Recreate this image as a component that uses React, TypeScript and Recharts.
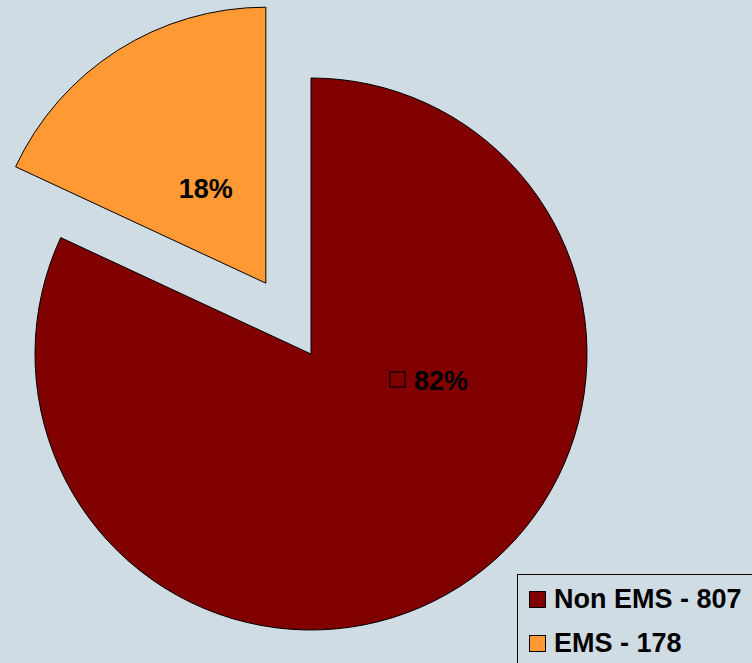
import { PieChart, Pie, Cell, Legend } from "recharts"

const categories = ["Non EMS", "EMS"]
const counts = [807, 178]
const colors = ["#800000", "#FF9933"]

const data = categories.map((name, i) => ({ name, value: counts[i] }))
const total = counts.reduce((s, v) => s + v, 0)

const CX = 311
const CY = 354
const R = 276
const EXPLODE = 84

// EMS slice sits after Non EMS going clockwise from 12 o'clock
const emsMid = 90 + ((counts[1] / total) * 360) / 2
const RAD = Math.PI / 180
const cx2 = CX + EXPLODE * Math.cos(emsMid * RAD)
const cy2 = CY - EXPLODE * Math.sin(emsMid * RAD)

// where each percent label sits (angle in degrees, fraction of radius)
const labelAngle = [-13, emsMid]
const labelRadius = [0.435, 0.405]

const font = "'Liberation Sans', Arial, sans-serif"

function pct(i: number) {
  return `${Math.round((counts[i] / total) * 100)}%`
}

function makeLabel(only: number) {
  return (props: any) => {
    const { cx, cy, index } = props
    if (index !== only) return null
    const a = labelAngle[index] * RAD
    const x = cx + R * labelRadius[index] * Math.cos(a)
    const y = cy - R * labelRadius[index] * Math.sin(a)
    if (index === 0) {
      return (
        <g>
          <rect x={x - 38} y={y - 9} width={15} height={15} fill="none" stroke="#000" strokeWidth={1.2} />
          <text x={x - 14} y={y} dominantBaseline="central" fontFamily={font} fontWeight="bold" fontSize={27} fill="#000">
            {pct(index)}
          </text>
        </g>
      )
    }
    return (
      <text x={x} y={y} textAnchor="middle" dominantBaseline="central" fontFamily={font} fontWeight="bold" fontSize={27} fill="#000">
        {pct(index)}
      </text>
    )
  }
}

function LegendBox() {
  return (
    <div
      style={{
        width: 245,
        height: 95,
        border: "1px solid #000",
        boxSizing: "border-box",
        fontFamily: font,
        fontWeight: "bold",
        fontSize: 27,
        color: "#000",
      }}
    >
      {categories.map((name, i) => (
        <div key={name} style={{ display: "flex", alignItems: "center", height: 44, marginTop: i === 0 ? 2 : 0, paddingLeft: 11 }}>
          <div style={{ width: 15, height: 15, background: colors[i], border: "1px solid #000", marginRight: 8 }} />
          <span>
            {name} - {counts[i]}
          </span>
        </div>
      ))}
    </div>
  )
}

export default function App() {
  return (
    <div style={{ position: "absolute", left: 0, top: 0, width: 752, height: 663, background: "#D0DCE4", overflow: "hidden" }}>
      <PieChart width={752} height={663} margin={{ top: 0, right: 0, bottom: 0, left: 0 }}>
        <Pie
          data={data}
          dataKey="value"
          cx={CX}
          cy={CY}
          outerRadius={R}
          startAngle={90}
          endAngle={-270}
          labelLine={false}
          label={makeLabel(0)}
          isAnimationActive={false}
        >
          {data.map((d, i) => (
            <Cell key={`a-${d.name}`} fill={i === 0 ? colors[0] : "none"} stroke={i === 0 ? "#000" : "none"} strokeWidth={1} />
          ))}
        </Pie>
        <Pie
          data={data}
          dataKey="value"
          cx={cx2}
          cy={cy2}
          outerRadius={R}
          startAngle={90}
          endAngle={-270}
          labelLine={false}
          label={makeLabel(1)}
          isAnimationActive={false}
        >
          {data.map((d, i) => (
            <Cell key={`b-${d.name}`} fill={i === 1 ? colors[1] : "none"} stroke={i === 1 ? "#000" : "none"} strokeWidth={1} />
          ))}
        </Pie>
        <Legend
          content={() => <LegendBox />}
          wrapperStyle={{ position: "absolute", left: 517, top: 574, width: 245, height: 95 }}
        />
      </PieChart>
    </div>
  )
}
